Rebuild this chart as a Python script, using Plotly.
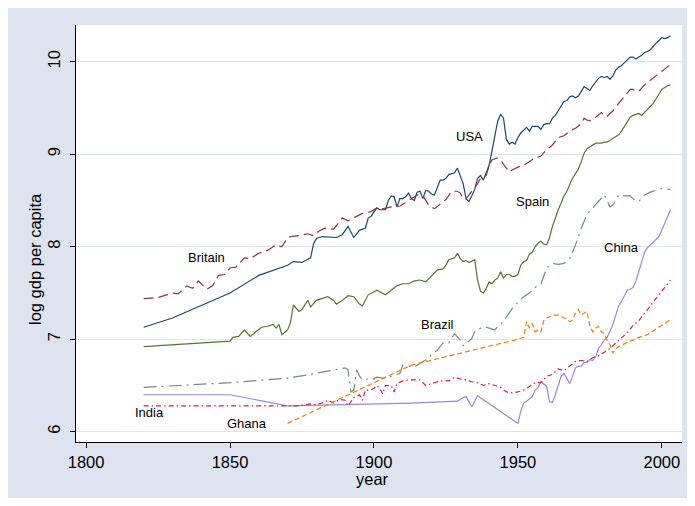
import plotly.graph_objects as go

# ---------------- data ----------------
usa_year = [1820, 1830, 1850, 1860, 1870, 1872, 1875, 1878, 1879, 1880, 1882, 1885, 1887, 1889, 1891, 1892, 1893, 1894, 1895, 1897, 1898, 1899, 1901, 1902, 1904, 1905, 1906, 1907, 1908, 1909, 1910, 1911, 1912, 1913, 1914, 1915, 1916, 1917, 1918, 1919, 1920, 1921, 1922, 1923, 1924, 1925, 1926, 1927, 1928, 1929, 1930, 1931, 1932, 1933, 1934, 1935, 1936, 1937, 1938, 1939, 1940, 1941, 1942, 1943, 1944, 1945, 1946, 1947, 1948, 1949, 1950, 1951, 1952, 1953, 1954, 1955, 1956, 1957, 1958, 1959, 1960, 1961, 1962, 1963, 1964, 1965, 1966, 1967, 1968, 1969, 1970, 1971, 1972, 1973, 1974, 1975, 1976, 1977, 1978, 1979, 1980, 1981, 1982, 1983, 1984, 1985, 1986, 1987, 1988, 1989, 1990, 1991, 1992, 1993, 1994, 1995, 1996, 1997, 1998, 1999, 2000, 2001, 2002, 2003]
usa_val = [7.13, 7.23, 7.50, 7.69, 7.80, 7.84, 7.83, 7.88, 8.03, 8.09, 8.11, 8.10, 8.10, 8.13, 8.22, 8.16, 8.10, 8.14, 8.18, 8.20, 8.31, 8.33, 8.42, 8.40, 8.40, 8.50, 8.55, 8.54, 8.43, 8.52, 8.52, 8.54, 8.58, 8.52, 8.50, 8.59, 8.60, 8.52, 8.61, 8.60, 8.57, 8.56, 8.63, 8.72, 8.72, 8.74, 8.78, 8.79, 8.80, 8.85, 8.76, 8.68, 8.52, 8.49, 8.55, 8.62, 8.74, 8.77, 8.72, 8.80, 8.88, 9.04, 9.20, 9.36, 9.43, 9.39, 9.16, 9.11, 9.13, 9.11, 9.18, 9.23, 9.26, 9.29, 9.25, 9.30, 9.30, 9.30, 9.27, 9.32, 9.33, 9.33, 9.39, 9.42, 9.47, 9.52, 9.57, 9.58, 9.62, 9.63, 9.61, 9.63, 9.68, 9.73, 9.71, 9.69, 9.74, 9.78, 9.82, 9.84, 9.83, 9.84, 9.81, 9.85, 9.91, 9.94, 9.96, 9.99, 10.02, 10.05, 10.05, 10.03, 10.05, 10.07, 10.10, 10.11, 10.13, 10.17, 10.20, 10.23, 10.26, 10.25, 10.26, 10.28]

britain_year = [1820, 1825, 1830, 1832, 1835, 1837, 1839, 1842, 1844, 1846, 1848, 1850, 1852, 1855, 1857, 1860, 1863, 1866, 1868, 1870, 1871, 1874, 1877, 1879, 1881, 1883, 1886, 1889, 1891, 1894, 1896, 1899, 1901, 1903, 1906, 1909, 1913, 1915, 1917, 1919, 1921, 1923, 1925, 1927, 1929, 1930, 1931, 1932, 1934, 1936, 1937, 1939, 1940, 1941, 1943, 1944, 1945, 1946, 1947, 1948, 1950, 1952, 1954, 1956, 1958, 1960, 1962, 1964, 1966, 1968, 1970, 1972, 1973, 1974, 1975, 1977, 1979, 1980, 1981, 1983, 1985, 1987, 1989, 1990, 1991, 1992, 1994, 1996, 1998, 2000, 2002, 2003]
britain_val = [7.44, 7.45, 7.50, 7.49, 7.575, 7.55, 7.63, 7.54, 7.58, 7.69, 7.70, 7.77, 7.78, 7.88, 7.87, 7.93, 7.96, 8.02, 8.00, 8.10, 8.11, 8.12, 8.14, 8.12, 8.17, 8.20, 8.19, 8.31, 8.28, 8.33, 8.36, 8.38, 8.42, 8.41, 8.43, 8.44, 8.52, 8.56, 8.55, 8.45, 8.41, 8.46, 8.51, 8.60, 8.60, 8.58, 8.52, 8.52, 8.60, 8.68, 8.74, 8.77, 8.88, 8.94, 8.96, 8.94, 8.89, 8.85, 8.81, 8.83, 8.86, 8.88, 8.92, 8.96, 8.98, 9.05, 9.10, 9.18, 9.20, 9.25, 9.28, 9.33, 9.39, 9.37, 9.36, 9.40, 9.45, 9.42, 9.41, 9.47, 9.55, 9.63, 9.70, 9.70, 9.68, 9.68, 9.75, 9.80, 9.85, 9.90, 9.94, 9.97]

spain_year = [1820, 1850, 1851, 1853, 1855, 1857, 1859, 1861, 1863, 1865, 1866, 1867, 1868, 1870, 1871, 1872, 1874, 1875, 1877, 1878, 1880, 1882, 1884, 1886, 1887, 1889, 1891, 1893, 1895, 1896, 1898, 1901, 1903, 1904, 1906, 1908, 1910, 1912, 1914, 1916, 1918, 1920, 1922, 1924, 1925, 1926, 1928, 1929, 1930, 1931, 1932, 1933, 1935, 1936, 1937, 1938, 1939, 1940, 1941, 1942, 1943, 1944, 1945, 1946, 1947, 1948, 1949, 1950, 1951, 1952, 1953, 1954, 1955, 1956, 1957, 1958, 1959, 1960, 1961, 1962, 1963, 1964, 1965, 1966, 1967, 1968, 1969, 1970, 1971, 1972, 1973, 1974, 1975, 1976, 1977, 1978, 1979, 1980, 1981, 1982, 1983, 1984, 1985, 1986, 1987, 1988, 1989, 1990, 1991, 1992, 1993, 1994, 1995, 1996, 1997, 1998, 1999, 2000, 2001, 2002, 2003]
spain_val = [6.92, 6.98, 7.02, 7.03, 7.10, 7.03, 7.08, 7.13, 7.14, 7.16, 7.12, 7.16, 7.05, 7.10, 7.18, 7.37, 7.30, 7.32, 7.42, 7.35, 7.42, 7.44, 7.46, 7.42, 7.38, 7.42, 7.47, 7.46, 7.38, 7.36, 7.48, 7.53, 7.50, 7.48, 7.53, 7.58, 7.60, 7.60, 7.63, 7.64, 7.62, 7.68, 7.75, 7.76, 7.80, 7.86, 7.88, 7.93, 7.87, 7.84, 7.85, 7.83, 7.86, 7.64, 7.52, 7.50, 7.55, 7.62, 7.60, 7.64, 7.66, 7.73, 7.66, 7.70, 7.70, 7.68, 7.68, 7.70, 7.80, 7.84, 7.85, 7.92, 7.94, 8.00, 8.04, 8.06, 8.03, 8.02, 8.10, 8.22, 8.32, 8.40, 8.47, 8.55, 8.60, 8.67, 8.74, 8.79, 8.84, 8.92, 9.01, 9.06, 9.08, 9.10, 9.12, 9.12, 9.12, 9.13, 9.13, 9.15, 9.17, 9.19, 9.21, 9.25, 9.30, 9.35, 9.40, 9.42, 9.43, 9.44, 9.42, 9.45, 9.48, 9.51, 9.55, 9.60, 9.65, 9.70, 9.72, 9.74, 9.75]

brazil_year = [1820, 1850, 1870, 1876, 1890, 1891, 1892, 1893, 1894, 1895, 1896, 1898, 1899, 1901, 1903, 1904, 1906, 1908, 1909, 1910, 1912, 1914, 1915, 1917, 1919, 1920, 1922, 1924, 1925, 1926, 1928, 1929, 1930, 1931, 1932, 1934, 1935, 1937, 1939, 1940, 1942, 1943, 1945, 1946, 1948, 1950, 1952, 1954, 1956, 1958, 1960, 1962, 1964, 1966, 1968, 1970, 1972, 1974, 1976, 1978, 1980, 1981, 1982, 1983, 1985, 1987, 1989, 1990, 1991, 1992, 1994, 1996, 1998, 2000, 2003]
brazil_val = [6.48, 6.53, 6.58, 6.61, 6.69, 6.67, 6.43, 6.45, 6.67, 6.60, 6.56, 6.57, 6.56, 6.59, 6.58, 6.58, 6.60, 6.62, 6.63, 6.72, 6.71, 6.70, 6.72, 6.76, 6.79, 6.84, 6.88, 6.96, 6.95, 6.96, 7.06, 7.03, 6.99, 6.93, 6.95, 7.01, 7.08, 7.12, 7.13, 7.12, 7.10, 7.14, 7.19, 7.24, 7.33, 7.40, 7.46, 7.50, 7.56, 7.60, 7.77, 7.82, 7.81, 7.82, 7.87, 8.02, 8.20, 8.35, 8.42, 8.48, 8.56, 8.50, 8.43, 8.45, 8.56, 8.55, 8.55, 8.52, 8.50, 8.49, 8.56, 8.59, 8.61, 8.63, 8.62]

china_year = [1820, 1850, 1870, 1913, 1929, 1931, 1932, 1933, 1934, 1936, 1950, 1951, 1952, 1953, 1954, 1955, 1956, 1957, 1958, 1959, 1960, 1961, 1962, 1963, 1964, 1965, 1966, 1967, 1968, 1969, 1970, 1971, 1972, 1973, 1974, 1975, 1976, 1977, 1978, 1979, 1980, 1981, 1982, 1983, 1984, 1985, 1986, 1987, 1988, 1989, 1990, 1991, 1992, 1993, 1994, 1995, 1996, 1997, 1998, 1999, 2000, 2001, 2002, 2003]
china_val = [6.40, 6.40, 6.28, 6.31, 6.33, 6.37, 6.38, 6.33, 6.27, 6.39, 6.09, 6.22, 6.31, 6.33, 6.36, 6.38, 6.45, 6.48, 6.54, 6.51, 6.49, 6.32, 6.32, 6.40, 6.50, 6.60, 6.63, 6.58, 6.52, 6.60, 6.69, 6.71, 6.71, 6.75, 6.75, 6.78, 6.77, 6.81, 6.90, 6.94, 6.99, 7.02, 7.09, 7.16, 7.26, 7.36, 7.41, 7.48, 7.53, 7.54, 7.56, 7.63, 7.73, 7.84, 7.94, 7.99, 8.02, 8.05, 8.08, 8.11, 8.18, 8.25, 8.32, 8.40]

india_year = [1820, 1870, 1873, 1876, 1878, 1880, 1882, 1884, 1886, 1888, 1890, 1891, 1893, 1895, 1896, 1897, 1899, 1900, 1901, 1902, 1903, 1904, 1906, 1907, 1908, 1910, 1912, 1914, 1916, 1918, 1920, 1922, 1924, 1926, 1928, 1930, 1932, 1934, 1936, 1938, 1940, 1942, 1944, 1946, 1948, 1950, 1952, 1954, 1956, 1958, 1960, 1962, 1964, 1966, 1968, 1970, 1972, 1974, 1976, 1978, 1980, 1982, 1984, 1986, 1988, 1990, 1992, 1994, 1996, 1998, 2000, 2002, 2003]
india_val = [6.28, 6.28, 6.28, 6.29, 6.30, 6.29, 6.31, 6.34, 6.31, 6.35, 6.34, 6.28, 6.37, 6.40, 6.34, 6.45, 6.45, 6.47, 6.50, 6.47, 6.41, 6.50, 6.50, 6.43, 6.52, 6.55, 6.56, 6.56, 6.56, 6.50, 6.52, 6.54, 6.55, 6.55, 6.59, 6.57, 6.56, 6.54, 6.53, 6.50, 6.52, 6.50, 6.48, 6.43, 6.42, 6.43, 6.45, 6.49, 6.53, 6.53, 6.60, 6.62, 6.68, 6.66, 6.71, 6.76, 6.77, 6.76, 6.80, 6.82, 6.86, 6.90, 6.96, 7.02, 7.07, 7.15, 7.20, 7.28, 7.36, 7.44, 7.51, 7.59, 7.64]

ghana_year = [1870, 1913, 1950, 1951, 1952, 1953, 1954, 1955, 1956, 1957, 1958, 1959, 1960, 1961, 1962, 1963, 1964, 1965, 1966, 1967, 1968, 1969, 1970, 1971, 1972, 1973, 1974, 1975, 1976, 1977, 1978, 1979, 1980, 1981, 1982, 1983, 1984, 1985, 1986, 1987, 1988, 1989, 1990, 1991, 1992, 1993, 1994, 1995, 1996, 1997, 1998, 1999, 2000, 2001, 2002, 2003]
ghana_val = [6.09, 6.72, 7.00, 7.01, 7.02, 7.19, 7.12, 7.17, 7.08, 7.10, 7.08, 7.20, 7.23, 7.24, 7.26, 7.26, 7.26, 7.25, 7.23, 7.22, 7.19, 7.21, 7.28, 7.32, 7.26, 7.28, 7.30, 7.14, 7.08, 7.12, 7.14, 7.08, 7.06, 6.99, 6.94, 6.85, 6.90, 6.92, 6.94, 6.95, 6.97, 6.98, 6.99, 7.01, 7.02, 7.03, 7.04, 7.05, 7.07, 7.09, 7.11, 7.13, 7.15, 7.17, 7.19, 7.22]

country_labels = ["USA", "Britain", "Spain", "Brazil", "China", "India", "Ghana"]
label_year = [1933.1, 1841.7, 1955.0, 1922.0, 1985.9, 1822.2, 1855.9]
label_val = [9.197, 7.889, 8.494, 7.154, 7.997, 6.203, 6.094]

x_ticks = [1800, 1850, 1900, 1950, 2000]
y_ticks = [6, 7, 8, 9, 10]

# ---------------- figure ----------------
FONT = "Liberation Sans, Arial, Helvetica, sans-serif"
BG = "rgb(222,228,239)"
GRID = "rgb(222,229,239)"

series = [
    (usa_year, usa_val, "rgb(26,71,111)", "solid"),
    (britain_year, britain_val, "rgb(144,53,59)", "10px,5px"),
    (spain_year, spain_val, "rgb(85,117,47)", "solid"),
    (brazil_year, brazil_val, "rgb(110,142,132)", "13px,5px,2px,5px"),
    (china_year, china_val, "rgb(154,136,222)", "solid"),
    (india_year, india_val, "rgb(214,30,74)", "5px,3px,1.5px,3px"),
    (ghana_year, ghana_val, "rgb(236,128,10)", "5px,3px"),
]

fig = go.Figure()
for xs, ys, col, dash in series:
    fig.add_trace(go.Scatter(x=xs, y=ys, mode="lines",
                             line=dict(color=col, width=1.2, dash=dash),
                             showlegend=False, hoverinfo="skip"))

for txt, lx, ly in zip(country_labels, label_year, label_val):
    fig.add_annotation(x=lx, y=ly, xref="x", yref="y", text=txt, showarrow=False,
                       font=dict(family=FONT, size=13, color="black"),
                       xanchor="center", yanchor="middle")

fig.add_annotation(x=(372 - 76) / 606, y=(442 - 479) / 417, xref="paper", yref="paper",
                   text="year", showarrow=False, xanchor="center", yanchor="middle",
                   font=dict(family=FONT, size=16.5, color="black"))
fig.add_annotation(x=(35 - 76) / 606, y=(442 - 259) / 417, xref="paper", yref="paper",
                   text="log gdp per capita", showarrow=False, textangle=-90,
                   xanchor="center", yanchor="middle",
                   font=dict(family=FONT, size=16.5, color="black"))

fig.update_xaxes(range=[1796.5, 2007.0], tickvals=x_ticks, ticktext=[str(v) for v in x_ticks],
                 showgrid=False, zeroline=False, showline=True, linecolor="black", linewidth=1,
                 ticks="outside", ticklen=5, tickwidth=1, tickcolor="black",
                 tickfont=dict(family=FONT, size=16.5, color="black"))
fig.update_yaxes(range=[5.889, 10.397], tickvals=y_ticks, ticktext=[str(v) for v in y_ticks],
                 showgrid=True, gridcolor=GRID, gridwidth=1.3, zeroline=False,
                 showline=True, linecolor="black", linewidth=1,
                 ticks="outside", ticklen=5, tickwidth=1, tickcolor="black", tickangle=-90,
                 ticklabelstandoff=3,
                 tickfont=dict(family=FONT, size=16.5, color="black"))

fig.update_layout(width=681, height=490,
                  margin=dict(l=68, r=7, t=17, b=56, pad=0),
                  paper_bgcolor=BG, plot_bgcolor="white",
                  font=dict(family=FONT, color="black"))

fig.write_html("out.html")
